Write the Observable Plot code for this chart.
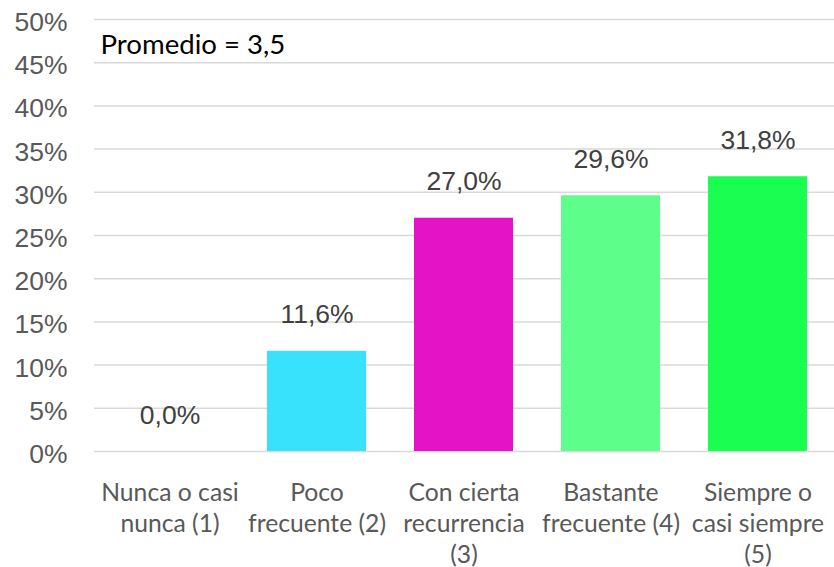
<!DOCTYPE html>
<html>
<head>
<meta charset="utf-8">
<script src="https://cdn.jsdelivr.net/npm/d3@7"></script>
<script src="https://cdn.jsdelivr.net/npm/@observablehq/plot@0.6"></script>
<style>
  html, body { margin: 0; padding: 0; background: #fff; }
  #chart svg { display: block; }
</style>
</head>
<body>
<div id="chart"></div>
<script>
const categories = [
  "Nunca o casi\nnunca (1)",
  "Poco\nfrecuente (2)",
  "Con cierta\nrecurrencia\n(3)",
  "Bastante\nfrecuente (4)",
  "Siempre o\ncasi siempre\n(5)"
];
const values = [0.0, 11.6, 27.0, 29.6, 31.8];
const valueLabels = ["0,0%", "11,6%", "27,0%", "29,6%", "31,8%"];
const colors = ["#38E1FC", "#38E1FC", "#E413C6", "#5EFE8B", "#19FE50"];
const yTicks = [0, 5, 10, 15, 20, 25, 30, 35, 40, 45, 50];
const promedio = "Promedio = 3,5";

const data = categories.map((c, i) => ({cat: c, value: values[i], label: valueLabels[i], color: colors[i]}));

const chart = Plot.plot({
  width: 834,
  height: 567,
  marginLeft: 94,
  marginRight: 0,
  marginTop: 19,
  marginBottom: 116,
  style: {background: "#fff"},
  x: {domain: categories, paddingInner: 0.326, paddingOuter: 0.165, axis: null},
  y: {domain: [0, 50], axis: null},
  marks: [
    Plot.ruleY(yTicks, {stroke: "#d9d9d9", strokeWidth: 1.5}),
    Plot.axisY(yTicks, {
      tickSize: 0, tickPadding: 27, dy: 3,
      tickFormat: d => d + "%",
      fontSize: 26.5, fontFamily: "Liberation Sans, Arial, sans-serif",
      fill: "#595959", label: null
    }),
    Plot.barY(data, {x: "cat", y: "value", fill: "color"}),
    Plot.text(data, {
      x: "cat", y: "value", text: "label", dy: -28, lineAnchor: "bottom",
      fontSize: 26.5, fontFamily: "Liberation Sans, Arial, sans-serif", fill: "#404040"
    }),
    Plot.text(data, {
      x: "cat", y: 0, text: "cat", lineAnchor: "top", dy: 28,
      lineHeight: 1.25,
      fontSize: 24.7, fontFamily: "Lato, sans-serif", fill: "#595959"
    }),
    Plot.text([promedio], {
      frameAnchor: "top-left", textAnchor: "start", lineAnchor: "bottom",
      dx: 6, dy: 34,
      fontSize: 27.6, fontFamily: "Lato, sans-serif", fill: "#000"
    })
  ]
});
document.getElementById("chart").appendChild(chart);
</script>
</body>
</html>
